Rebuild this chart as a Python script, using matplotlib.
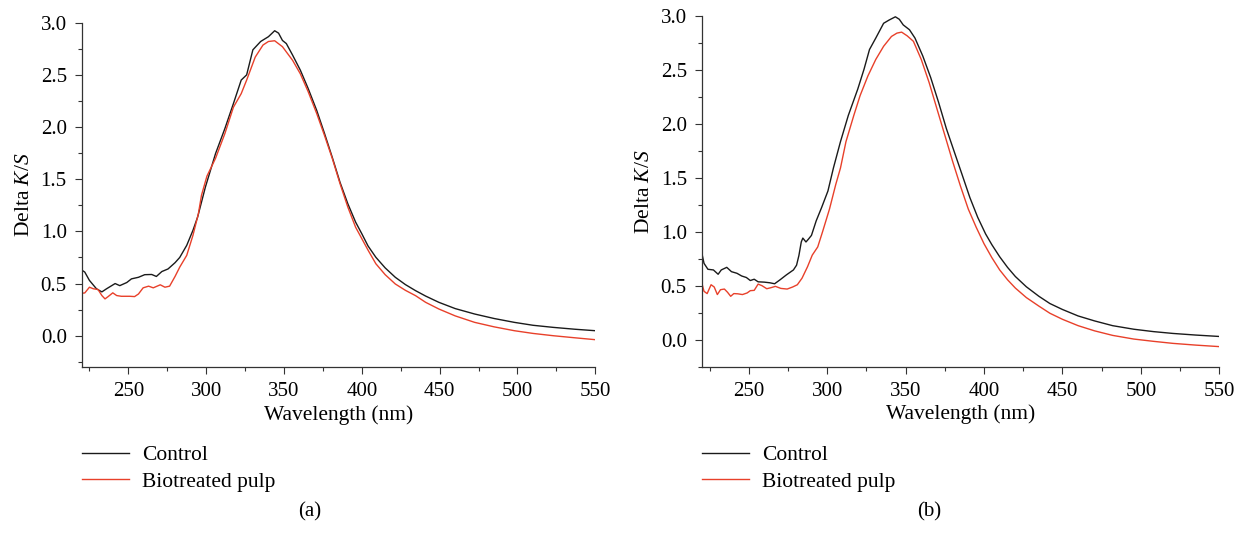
import numpy as np
import matplotlib.pyplot as plt

plt.rcParams['font.family'] = ['Liberation Serif', 'DejaVu Serif']
plt.rcParams['mathtext.fontset'] = 'custom'
plt.rcParams['mathtext.rm'] = 'Liberation Serif'
plt.rcParams['mathtext.it'] = 'Liberation Serif:italic'

# panel (a)
wl_a_ctrl = [220, 222, 225, 229.5, 233, 236, 241.5, 244.5, 249, 252, 256.5, 260.5, 265, 268, 271.5,
             275.5, 280, 283, 287.5, 291.5, 294.5, 299.5, 306, 312, 317.5, 322.5, 326, 330, 335, 340,
             344, 346.5, 349, 351.5, 355.5, 360.5, 365.5, 371, 376, 381, 386, 391, 396, 400, 404, 409,
             415, 421.5, 428, 434.5, 441, 449.5, 460, 472.5, 485, 498, 510, 523, 537, 550]
val_a_ctrl = [0.63, 0.61, 0.53, 0.45, 0.42, 0.45, 0.50, 0.48, 0.51, 0.545, 0.56, 0.585, 0.587, 0.568, 0.615,
              0.64, 0.70, 0.75, 0.866, 1.01, 1.137, 1.425, 1.745, 1.985, 2.225, 2.45, 2.50, 2.74, 2.82, 2.866,
              2.923, 2.90, 2.83, 2.80, 2.69, 2.545, 2.37, 2.16, 1.94, 1.71, 1.47, 1.265, 1.089, 0.977, 0.86,
              0.752, 0.65, 0.56, 0.49, 0.432, 0.38, 0.32, 0.26, 0.208, 0.165, 0.128, 0.10, 0.08, 0.062, 0.048]

wl_a_bio = [220, 222, 225, 227.5, 230.5, 233, 235, 237, 240, 242.5, 245.5, 251, 254, 256.5, 259.5, 263,
            266, 270.5, 273.5, 276.5, 280, 283, 287.5, 291.5, 295, 297, 300.5, 306, 312, 317.5, 322.5,
            326, 331.5, 336.5, 340, 344, 349, 355.5, 360.5, 365.5, 371, 376, 381, 386, 391, 396, 400,
            404, 409, 415, 421.5, 428, 434.5, 441, 449.5, 460, 472.5, 485, 498, 510, 523, 537, 550]
val_a_bio = [0.407, 0.41, 0.465, 0.45, 0.443, 0.385, 0.353, 0.375, 0.411, 0.385, 0.378, 0.378, 0.375, 0.40,
             0.459, 0.475, 0.459, 0.488, 0.465, 0.475, 0.568, 0.657, 0.77, 0.962, 1.17, 1.347, 1.53, 1.70,
             1.937, 2.19, 2.32, 2.45, 2.67, 2.786, 2.82, 2.827, 2.77, 2.64, 2.51, 2.34, 2.13, 1.92, 1.70,
             1.457, 1.233, 1.04, 0.93, 0.82, 0.69, 0.585, 0.496, 0.435, 0.384, 0.32, 0.256, 0.19, 0.128,
             0.085, 0.048, 0.022, 0.0, -0.02, -0.038]

# panel (b)
wl_b_ctrl = [220, 221.5, 224, 227.5, 230.5, 232.5, 236, 239, 242.5, 245.5, 248.5, 251, 253.5, 256, 260,
             263.5, 266.5, 270, 274, 278.5, 280.5, 282, 283.5, 284.5, 286.5, 288, 290, 293, 296.5, 300.5,
             304, 308.5, 313.5, 319.5, 323.5, 327, 331, 336, 339.5, 343.5, 346, 348.5, 352.5, 356, 361,
             366, 371, 376, 381, 386, 391, 396, 401, 405, 410, 415, 420, 427, 435, 442, 450, 460, 470.5,
             482, 495.5, 508, 520.5, 535, 550]
val_b_ctrl = [0.81, 0.707, 0.652, 0.646, 0.606, 0.646, 0.67, 0.63, 0.615, 0.59, 0.576, 0.548, 0.56, 0.536,
              0.533, 0.527, 0.518, 0.555, 0.60, 0.646, 0.69, 0.78, 0.905, 0.941, 0.905, 0.93, 0.966, 1.10,
              1.225, 1.377, 1.59, 1.834, 2.077, 2.32, 2.504, 2.687, 2.793, 2.93, 2.96, 2.99, 2.967, 2.915,
              2.87, 2.793, 2.626, 2.428, 2.20, 1.955, 1.742, 1.53, 1.316, 1.133, 0.98, 0.88, 0.768, 0.67,
              0.585, 0.49, 0.402, 0.335, 0.28, 0.22, 0.174, 0.13, 0.097, 0.075, 0.058, 0.043, 0.03]

wl_b_bio = [220, 221.5, 223.5, 226, 228, 230, 232, 234.5, 236.5, 238.5, 240.5, 243, 246, 249, 251, 253.5,
            256, 258.5, 261.5, 264, 267, 270.5, 274.5, 278, 281, 284, 287.5, 290.5, 294, 297, 301.5, 305.5,
            308.5, 312, 317, 321, 326, 331, 336, 341, 344.5, 347.5, 351, 355, 360, 365, 370, 375, 380,
            385, 390, 395, 400, 405, 410, 415, 420, 427, 435, 442, 450, 460, 470.5, 482, 495.5, 508,
            520.5, 535, 550]
val_b_bio = [0.53, 0.448, 0.427, 0.509, 0.488, 0.418, 0.463, 0.469, 0.439, 0.402, 0.427, 0.425, 0.418,
             0.433, 0.454, 0.457, 0.515, 0.50, 0.472, 0.481, 0.494, 0.475, 0.469, 0.488, 0.509, 0.57, 0.676,
             0.783, 0.859, 0.996, 1.21, 1.438, 1.59, 1.834, 2.077, 2.26, 2.443, 2.595, 2.717, 2.808, 2.839,
             2.848, 2.814, 2.763, 2.595, 2.382, 2.138, 1.895, 1.651, 1.422, 1.209, 1.042, 0.889, 0.76,
             0.646, 0.555, 0.478, 0.39, 0.311, 0.245, 0.189, 0.13, 0.082, 0.04, 0.006, -0.015, -0.034,
             -0.05, -0.064]

labels = ['Control', 'Biotreated pulp']
colors = ['#1a1a1a', '#e8402a']

fig = plt.figure(figsize=(12.41, 5.33), dpi=100)
ax_a = fig.add_axes([0.0658, 0.3114, 0.4139, 0.646])
ax_b = fig.add_axes([0.5654, 0.312, 0.4171, 0.6585])

panels = [
    (ax_a, wl_a_ctrl, val_a_ctrl, wl_a_bio, val_a_bio, (-0.3, 3.0), 0.0658, '(a)', 310),
    (ax_b, wl_b_ctrl, val_b_ctrl, wl_b_bio, val_b_bio, (-0.2, 3.0), 0.5654, '(b)', 929),
]

for ax, wc, vc, wb, vb, ylim, lx, tag, tx in panels:
    ax.plot(wc, vc, color=colors[0], lw=1.0, label=labels[0])
    ax.plot(wb, vb, color=colors[1], lw=1.0, label=labels[1])
    ax.set_xlim(220, 550)
    ax.set_ylim(*ylim)
    ax.set_xticks(np.arange(250, 551, 50))
    ax.set_xticks(np.arange(225, 551, 25), minor=True)
    ax.set_yticks(np.arange(0, 3.01, 0.5))
    ax.set_yticks(np.arange(-0.25, 3.01, 0.25), minor=True)
    ax.yaxis.set_major_formatter(plt.FormatStrFormatter('%.1f'))
    for s in ['top', 'right']:
        ax.spines[s].set_visible(False)
    for s in ['left', 'bottom']:
        ax.spines[s].set_linewidth(0.9)
        ax.spines[s].set_color('#333333')
    ax.tick_params(which='major', direction='out', length=4.7, width=0.8, labelsize=15,
                   color='#333333', pad=6)
    ax.tick_params(which='minor', direction='out', length=3, width=0.8, color='#333333')
    ax.set_xlabel('Wavelength (nm)', fontsize=15.5, labelpad=3)
    ax.set_ylabel('Delta $K/S$', fontsize=15.5, labelpad=5)
    ax.legend(loc='upper left', bbox_to_anchor=(lx, 1 - 445 / 533), bbox_transform=fig.transFigure,
              frameon=False, fontsize=15.5, handlelength=2.2, handletextpad=0.6,
              labelspacing=0.3, borderpad=0, borderaxespad=0)
    fig.text(tx / 1241, 1 - 512 / 533, tag, ha='center', va='center', fontsize=15)

fig.savefig('out.png', dpi=100)
